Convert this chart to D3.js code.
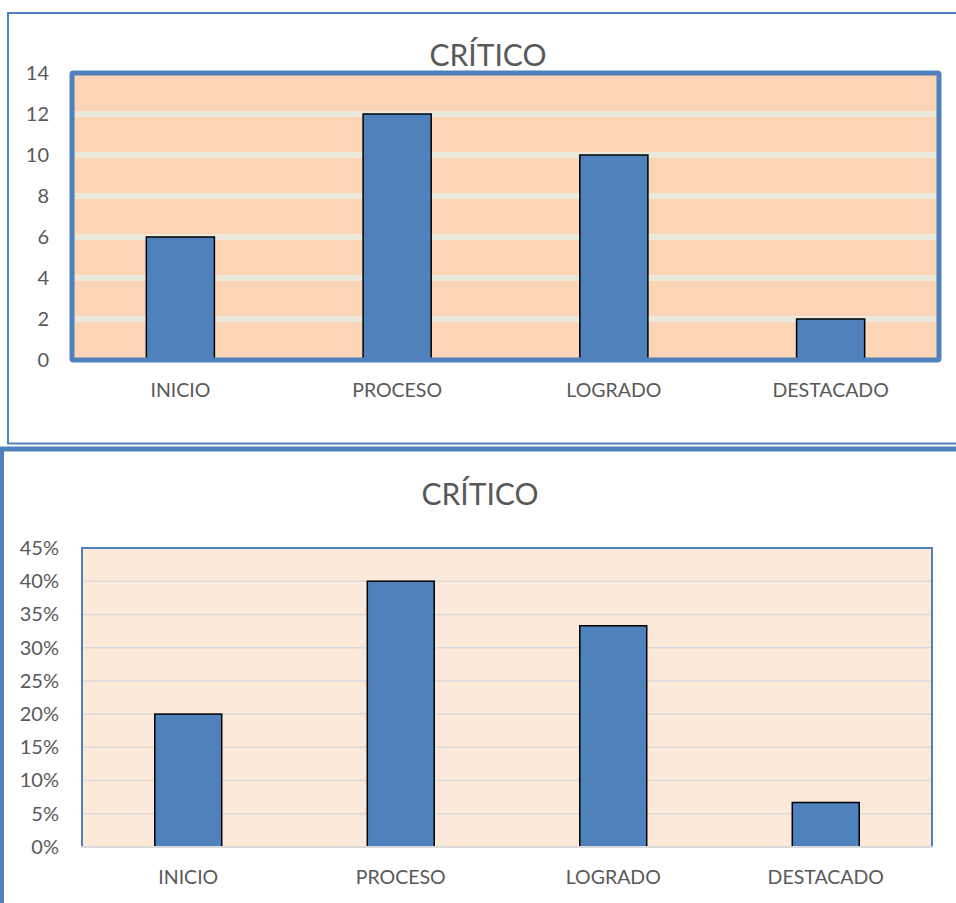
<!DOCTYPE html>
<html>
<head>
<meta charset="utf-8">
<script src="https://cdn.jsdelivr.net/npm/d3@7"></script>
<style>
  html, body { margin: 0; padding: 0; background: #fff; }
  svg { display: block; }
  text { font-family: Lato, "Open Sans", sans-serif; fill: #595959; }
</style>
</head>
<body>
<svg id="chart" width="956" height="903"></svg>
<script>
// ---- data ----
const categories = ["INICIO", "PROCESO", "LOGRADO", "DESTACADO"];
const counts = [6, 12, 10, 2];
const percents = [0.20, 0.40, 0.333, 0.067];
const countTicks = [0, 2, 4, 6, 8, 10, 12, 14];
const percentTicks = [0, 0.05, 0.10, 0.15, 0.20, 0.25, 0.30, 0.35, 0.40, 0.45];
const titleText = "CRÍTICO";

const svg = d3.select("#chart");
const blue = "#4f81bd";
const tickFont = 20;
const catFont = 19.5;
const titleFont = 30;

// ================= TOP CHART =================
(function () {
  const g = svg.append("g");
  g.append("rect").attr("x", 8).attr("y", 13).attr("width", 1000).attr("height", 430.5)
    .attr("fill", "#fff").attr("stroke", blue).attr("stroke-width", 2);

  const x = d3.scaleBand().domain(categories).range([72, 939]).padding(0);
  const y = d3.scaleLinear().domain([0, 14]).range([360, 73]);

  g.append("rect").attr("x", 72).attr("y", y(14)).attr("width", 939 - 72).attr("height", y(0) - y(14))
    .attr("fill", "#fbd5b5");

  g.append("g").selectAll("line").data(countTicks.filter(t => t > 0 && t < 14)).join("line")
    .attr("x1", 75).attr("x2", 936).attr("y1", d => y(d)).attr("y2", d => y(d))
    .attr("stroke", "#ebe8dc").attr("stroke-width", 6);

  const bw = x.bandwidth() * 0.314;
  g.append("g").selectAll("rect").data(categories).join("rect")
    .attr("x", (d) => x(d) + x.bandwidth() / 2 - bw / 2)
    .attr("y", (d, i) => y(counts[i]))
    .attr("width", bw)
    .attr("height", (d, i) => y(0) - y(counts[i]))
    .attr("fill", blue).attr("stroke", "#000").attr("stroke-width", 1.5);

  g.append("rect").attr("x", 72).attr("y", y(14)).attr("width", 939 - 72).attr("height", y(0) - y(14))
    .attr("fill", "none").attr("stroke", blue).attr("stroke-width", 5)
    .attr("rx", 1.5);

  const ya = g.append("g").attr("transform", "translate(60,0)")
    .call(d3.axisLeft(y).tickValues(countTicks).tickSize(0).tickPadding(11));
  ya.select(".domain").remove();
  ya.selectAll("text").attr("font-size", tickFont).attr("font-family", "Lato").attr("fill", "#595959");

  const xa = g.append("g").attr("transform", "translate(0,383)")
    .call(d3.axisBottom(x).tickSize(0).tickPadding(0));
  xa.select(".domain").remove();
  xa.selectAll("text").attr("font-size", catFont).attr("font-family", "Lato").attr("fill", "#595959")
    .attr("dy", "0.71em").attr("y", 0);

  g.append("text").attr("x", 488).attr("y", 66).attr("text-anchor", "middle")
    .attr("font-size", titleFont).text(titleText);
})();

// ================= BOTTOM CHART =================
(function () {
  const g = svg.append("g");
  g.append("rect").attr("x", 1.5).attr("y", 449).attr("width", 1000).attr("height", 500)
    .attr("fill", "#fff").attr("stroke", blue).attr("stroke-width", 5);

  const x = d3.scaleBand().domain(categories).range([82, 932]).padding(0);
  const y = d3.scaleLinear().domain([0, 0.45]).range([847, 548]);

  g.append("rect").attr("x", 82).attr("y", y(0.45)).attr("width", 932 - 82).attr("height", y(0) - y(0.45))
    .attr("fill", "#fde9d9");

  g.append("g").selectAll("line").data(percentTicks.filter(t => t > 0 && t < 0.44)).join("line")
    .attr("x1", 82).attr("x2", 932).attr("y1", d => y(d)).attr("y2", d => y(d))
    .attr("stroke", "#d9d9d9").attr("stroke-width", 1.5);

  const bw = x.bandwidth() * 0.315;
  g.append("g").selectAll("rect").data(categories).join("rect")
    .attr("x", (d) => x(d) + x.bandwidth() / 2 - bw / 2)
    .attr("y", (d, i) => y(percents[i]))
    .attr("width", bw)
    .attr("height", (d, i) => y(0) - y(percents[i]))
    .attr("fill", blue).attr("stroke", "#000").attr("stroke-width", 1.5);

  g.append("path")
    .attr("d", `M82,${y(0)} L82,${y(0.45)} L932,${y(0.45)} L932,${y(0)}`)
    .attr("fill", "none").attr("stroke", blue).attr("stroke-width", 2);
  g.append("line").attr("x1", 81).attr("x2", 933).attr("y1", y(0)).attr("y2", y(0))
    .attr("stroke", "#d9d9d9").attr("stroke-width", 2);

  const ya = g.append("g").attr("transform", "translate(70,0)")
    .call(d3.axisLeft(y).tickValues(percentTicks).tickFormat(d3.format(".0%")).tickSize(0).tickPadding(11));
  ya.select(".domain").remove();
  ya.selectAll("text").attr("font-size", tickFont).attr("font-family", "Lato").attr("fill", "#595959");

  const xa = g.append("g").attr("transform", "translate(0,870)")
    .call(d3.axisBottom(x).tickSize(0).tickPadding(0));
  xa.select(".domain").remove();
  xa.selectAll("text").attr("font-size", catFont).attr("font-family", "Lato").attr("fill", "#595959")
    .attr("dy", "0.71em").attr("y", 0);

  g.append("text").attr("x", 480).attr("y", 505).attr("text-anchor", "middle")
    .attr("font-size", titleFont).text(titleText);
})();
</script>
</body>
</html>
